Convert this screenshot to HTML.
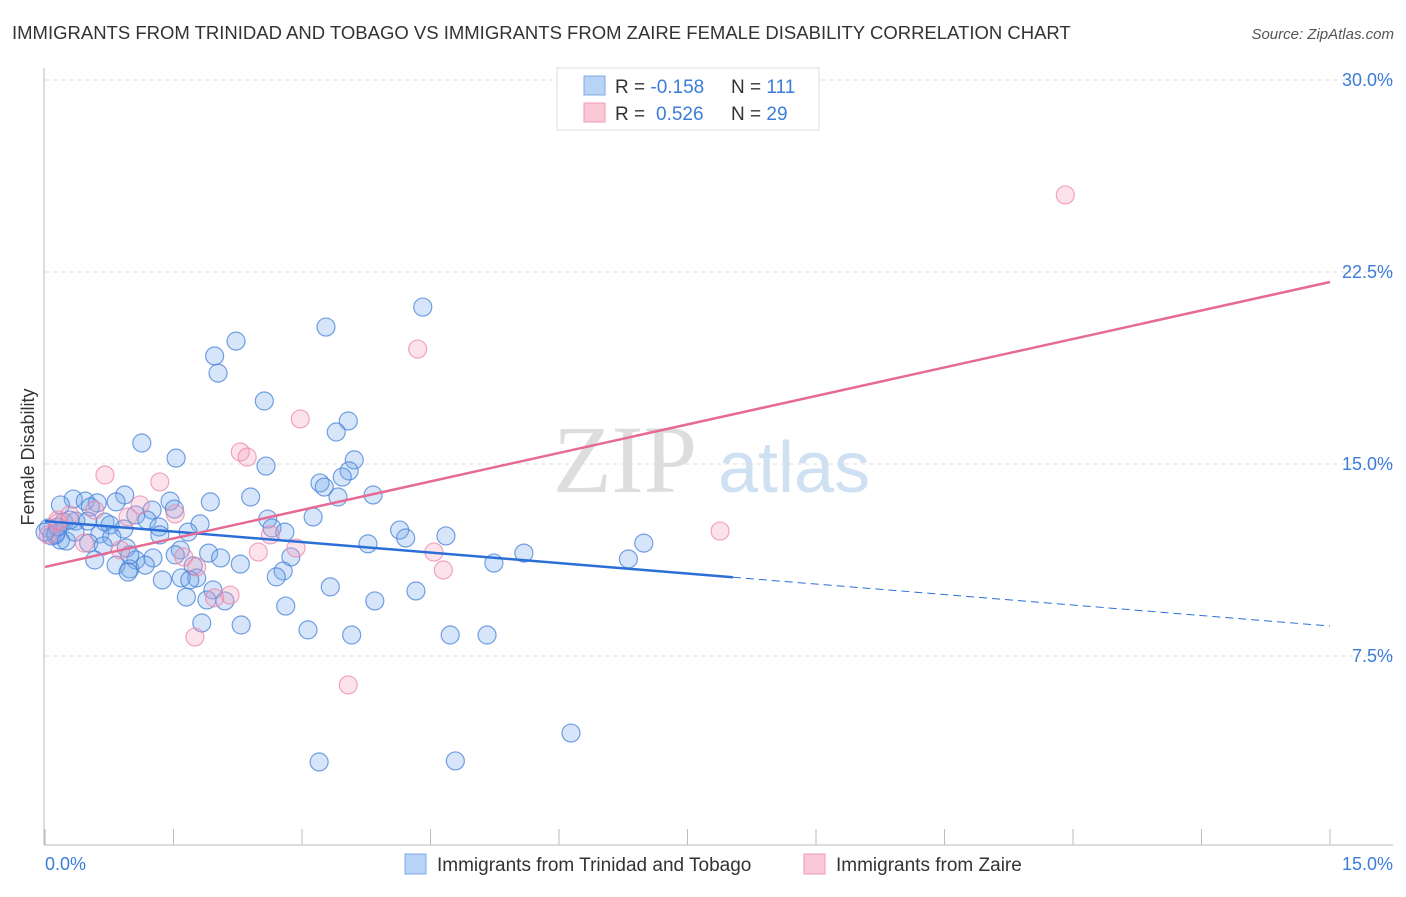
<!DOCTYPE html>
<html><head><meta charset="utf-8"><style>
body{margin:0;background:#fff;font-family:"Liberation Sans",sans-serif;}
svg text{font-family:"Liberation Sans",sans-serif;}
</style></head><body>
<svg width="1406" height="892" xmlns="http://www.w3.org/2000/svg">
<text x="12" y="39" font-size="18.5" fill="#333">IMMIGRANTS FROM TRINIDAD AND TOBAGO VS IMMIGRANTS FROM ZAIRE FEMALE DISABILITY CORRELATION CHART</text>
<text x="1394" y="39" font-size="15" fill="#555" font-style="italic" text-anchor="end">Source: ZipAtlas.com</text>
<g>
<text x="553" y="492" font-size="96" fill="#ddd" font-family="Liberation Serif,serif" style="font-family:'Liberation Serif',serif">ZIP</text>
<text x="718" y="492" font-size="72" fill="#cfe0f3">atlas</text>
</g>
<g id="grid"></g>
<g id="axes"></g>
<g id="marks"></g>
<text transform="translate(34,457) rotate(-90)" font-size="18" fill="#333" text-anchor="middle">Female Disability</text>
<text x="45" y="870" font-size="18" fill="#3b7dd8">0.0%</text>
<text x="1393" y="870" font-size="18" fill="#3b7dd8" text-anchor="end">15.0%</text>
<g>
<rect x="557" y="68" width="262" height="62" fill="#fff" stroke="#ddd"/>
<rect x="584" y="76" width="21" height="19" fill="#b7d3f5" stroke="#7fa9e4"/>
<rect x="584" y="103" width="21" height="19" fill="#fbc8d7" stroke="#f09ab4"/>
<text x="615" y="93" font-size="19" fill="#333">R = <tspan fill="#3b7dd8">-0.158</tspan><tspan x="731">N = </tspan><tspan fill="#3b7dd8">111</tspan></text>
<text x="615" y="120" font-size="19" fill="#333">R = <tspan fill="#3b7dd8" x="656">0.526</tspan><tspan x="731">N = </tspan><tspan fill="#3b7dd8">29</tspan></text>
</g>
<g>
<rect x="405" y="854" width="21" height="20" fill="#b7d3f5" stroke="#7fa9e4"/>
<text x="437" y="871" font-size="19" fill="#333">Immigrants from Trinidad and Tobago</text>
<rect x="804" y="854" width="21" height="20" fill="#fbc8d7" stroke="#f09ab4"/>
<text x="836" y="871" font-size="19" fill="#333">Immigrants from Zaire</text>
</g>
</svg>
<script>
const yTicks=[7.5,15,22.5,30];
const yTickLabels=["7.5%","15.0%","22.5%","30.0%"];
const xTicks=[0,1.5,3,4.5,6,7.5,9,10.5,12,13.5,15];
const blueX=[4.41,3.28,2.23,1.98,2.02,2.56,3.54,3.40,1.13,1.53,3.61,2.58,3.55,3.21,3.47,3.26,3.83,2.40,3.42,1.93,0.93,0.33,0.18,0.47,0.61,0.83,1.46,0.53,1.25,1.51,1.06,1.19,3.13,2.60,0.22,0.36,0.70,0.76,1.81,1.33,2.65,2.80,4.14,4.68,4.21,0.92,1.67,0.04,0.08,0.18,0.13,0.64,0.78,0.25,0.51,0.68,0.95,3.77,1.58,1.91,2.87,5.59,6.99,6.81,0.58,1.06,1.26,2.05,2.28,1.52,5.24,0.83,0.99,1.17,1.73,2.78,2.70,1.77,1.37,1.59,0.97,1.69,3.33,4.33,1.96,1.65,1.89,2.10,3.85,2.81,1.83,2.29,3.07,3.58,4.73,5.16,6.14,3.20,4.79,0.12,0.35,0.0,0.15,0.50,0.29,0.99,1.34];
const blueY=[21.13,20.35,19.8,19.22,18.55,17.46,16.68,16.25,15.82,15.23,15.16,14.92,14.73,14.26,14.49,14.10,13.79,13.71,13.71,13.52,13.79,13.63,13.40,13.55,13.48,13.52,13.55,13.32,13.20,13.24,13.01,12.81,12.93,12.85,12.73,12.77,12.73,12.62,12.66,12.54,12.50,12.34,12.42,12.19,12.11,12.46,12.34,12.50,12.19,12.03,12.30,12.27,12.15,11.99,11.91,11.80,11.72,11.88,11.64,11.52,11.37,11.52,11.91,11.29,11.25,11.25,11.33,11.33,11.09,11.45,11.13,11.05,10.90,11.05,11.02,10.82,10.59,10.55,10.47,10.55,10.78,10.47,10.20,10.04,10.08,9.80,9.69,9.65,9.65,9.45,8.79,8.71,8.52,8.32,8.32,8.32,4.49,3.36,3.40,12.23,12.34,12.34,12.54,12.77,12.81,11.45,12.23];
const pinkX=[11.91,4.35,2.98,2.28,2.36,0.70,1.34,1.11,0.58,0.97,1.52,0.15,0.04,0.46,2.63,2.93,0.88,1.62,2.49,1.77,4.54,4.65,7.88,2.16,1.98,1.75,3.54,0.15,0.29];
const pinkY=[25.51,19.49,16.76,15.47,15.27,14.57,14.30,13.40,13.20,12.93,13.05,12.70,12.23,11.91,12.23,11.72,11.64,11.37,11.56,10.98,11.56,10.86,12.38,9.88,9.77,8.24,6.37,12.81,13.01];
const blueTrend=[12.77,8.67]; // y at x=0 and x=15
const blueSolidEnd=8.03;
const pinkTrend=[10.98,22.11];

const NS="http://www.w3.org/2000/svg";
const X0=45,X1=1330,Y0=848,YPX=25.6;
const sx=v=>X0+(X1-X0)*v/15;
const sy=v=>Y0-v*YPX;
function mk(tag,attrs,parent){const e=document.createElementNS(NS,tag);for(const k in attrs)e.setAttribute(k,attrs[k]);parent.appendChild(e);return e;}
const grid=document.getElementById('grid'),axes=document.getElementById('axes'),marks=document.getElementById('marks');
yTicks.forEach((t,i)=>{
 const l=mk('line',{x1:45,x2:1393,y1:sy(t),y2:sy(t),stroke:'#ddd','stroke-dasharray':'4,4'},grid);
 
 
 const tx=mk('text',{x:1393,y:sy(t)+6,'font-size':18,fill:'#3b7dd8','text-anchor':'end'},grid);
 tx.textContent=yTickLabels[i];
 
 
});
const ya=mk('line',{x1:44,x2:44,y1:68,y2:845,stroke:'#bbb'},axes);


const xa=mk('line',{x1:44,x2:1393,y1:845,y2:845,stroke:'#bbb'},axes);


xTicks.forEach(t=>{
 const l=mk('line',{x1:sx(t),x2:sx(t),y1:829,y2:845,stroke:'#bbb'},axes);
 
 
});
blueX.forEach((x,i)=>{
 const c=mk('circle',{cx:sx(x),cy:sy(blueY[i]),r:9,fill:'rgba(120,170,235,0.3)',stroke:'rgba(70,130,215,0.75)','stroke-width':1.2},marks);
 
 
});
pinkX.forEach((x,i)=>{
 const c=mk('circle',{cx:sx(x),cy:sy(pinkY[i]),r:9,fill:'rgba(245,160,190,0.3)',stroke:'rgba(235,130,165,0.7)','stroke-width':1.2},marks);
 
 
});
const bAt=x=>blueTrend[0]+(blueTrend[1]-blueTrend[0])*x/15;
const bl=mk('line',{x1:sx(0),y1:sy(bAt(0)),x2:sx(blueSolidEnd),y2:sy(bAt(blueSolidEnd)),stroke:'#2b6fd6','stroke-width':2.5},marks);


const bd=mk('line',{x1:sx(blueSolidEnd),y1:sy(bAt(blueSolidEnd)),x2:sx(15),y2:sy(bAt(15)),stroke:'#2b6fd6','stroke-width':1,'stroke-dasharray':'8,5'},marks);


const pl=mk('line',{x1:sx(0),y1:sy(pinkTrend[0]),x2:sx(15),y2:sy(pinkTrend[1]),stroke:'#e56b94','stroke-width':2.5},marks);


</script>
</body></html>
